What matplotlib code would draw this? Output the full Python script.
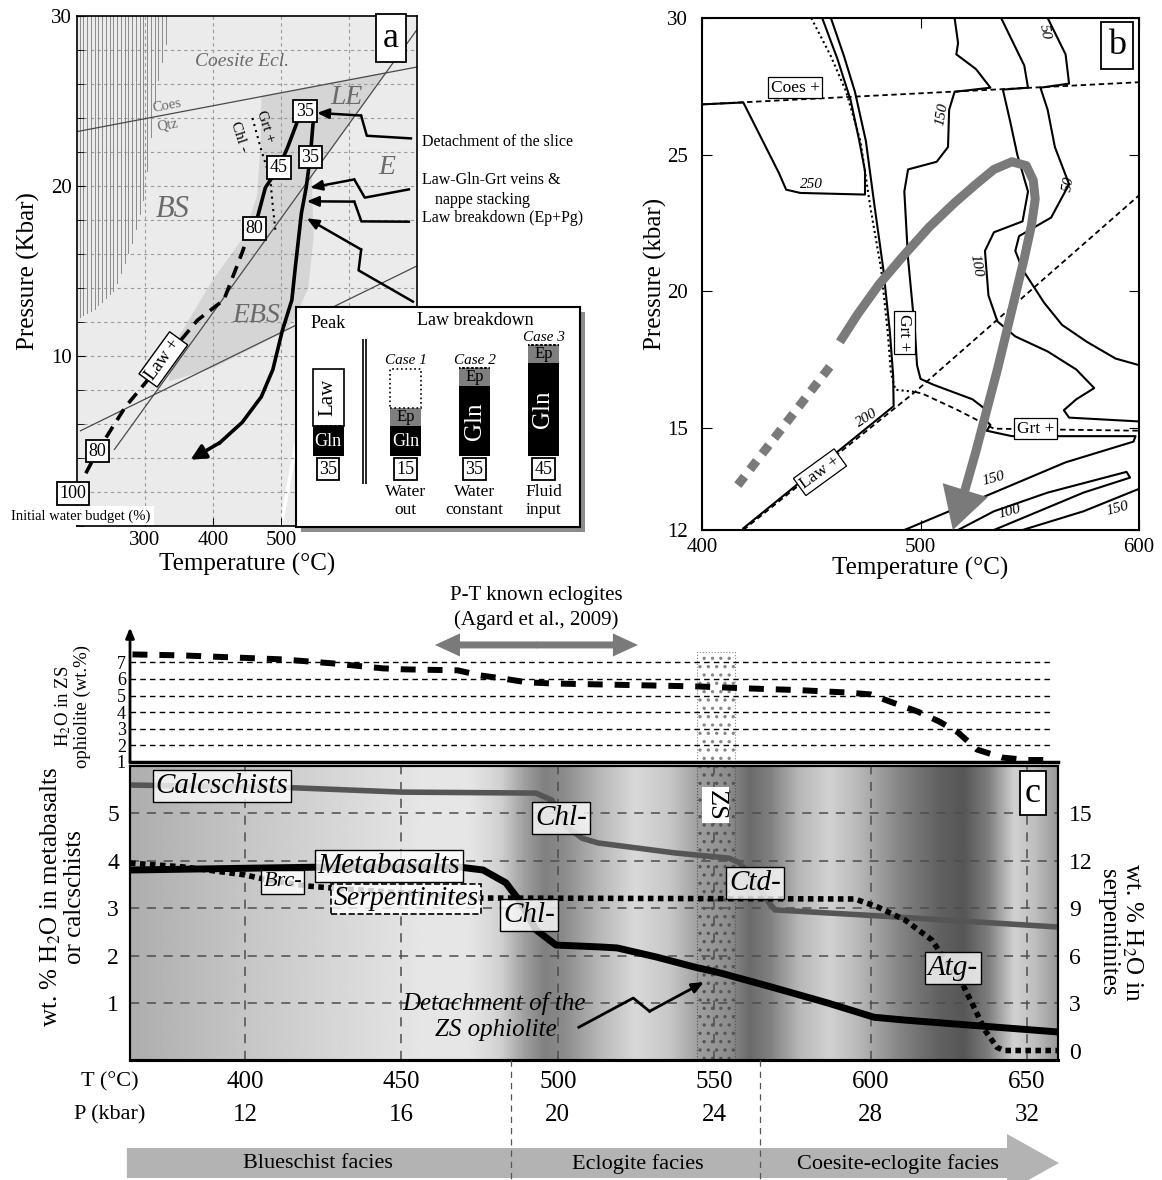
import numpy as np
import matplotlib
matplotlib.use('Agg')
import matplotlib.pyplot as plt
from matplotlib.patches import Rectangle, FancyArrow

plt.rcParams['font.family'] = ['Liberation Serif', 'DejaVu Serif']
plt.rcParams['mathtext.fontset'] = 'stix'
plt.rcParams['hatch.linewidth'] = 1.2
plt.rcParams['hatch.color'] = '#777777'

W, H = 1162, 1180

# ---------------- panel a : P-T grid and path ----------------
coes_T, coes_P = [200, 700], [23.2, 27.0]
lawin_T, lawin_P = [255, 700], [4.5, 29.2]
ebs_T, ebs_P = [205, 700], [5.6, 15.3]
hatch_T = [203, 227, 255, 280, 299, 316, 335]
hatch_P = [12.3, 12.8, 13.9, 16.5, 19.4, 25.6, 29.2]
grey_T = [471, 655, 545, 548, 540, 520, 505, 400, 335, 340, 400, 445, 465, 470]
grey_P = [25.3, 26.7, 20.6, 17, 14, 12.2, 11.4, 9.3, 8.5, 10.5, 14.5, 17, 19.5, 22.5]
grt_T = [458, 471, 484, 488, 492]
grt_P = [24.0, 22.1, 20.5, 18.8, 17.3]
prog_dash_T = [213, 230, 271, 377, 416, 443, 452]
prog_dash_P = [3.1, 4.4, 7.0, 12.1, 13.3, 16.1, 17.1]
prog_T = [452, 461, 477, 497, 510, 527, 535, 548]
prog_P = [17.1, 17.5, 19.9, 21.1, 22.3, 24.1, 24.4, 24.1]
retro_T = [548, 543, 537, 530, 521, 516, 502, 488, 471, 443, 410, 367]
retro_P = [24.1, 21.7, 19.9, 18.4, 15.2, 13.3, 11.5, 9.2, 7.6, 6.1, 4.9, 3.9]
budget_T = [535, 543, 497, 461, 230, 194]
budget_P = [24.4, 21.7, 21.1, 17.5, 4.4, 1.9]
budget_lab = ['35', '35', '45', '80', '80', '100']

# inset: water budget columns
col_x = [32, 109.5, 178.5, 247.5]
gln = [30, 30, 70, 93]
ep = [0, 18, 18, 18]
law = [57, 0, 0, 0]
lost = [0, 39, 0, 0]
col_budget = ['35', '15', '35', '45']
col_case = ['', 'Case 1', 'Case 2', 'Case 3']
col_note = ['', 'Water\nout', 'Water\nconstant', 'Fluid\ninput']

# ---------------- panel b : contoured pseudosection ----------------
b_coes_T, b_coes_P = [400, 600], [26.84, 27.65]
b_law_T, b_law_P = [418.9, 497.5, 600], [12.0, 16.32, 23.51]
b_grt_T = [497.5, 500.8, 517.2, 530.3, 533.6, 600]
b_grt_P = [16.32, 16.26, 15.65, 15.11, 14.98, 14.92]
b_grtv_T = [450, 459, 466, 472.5, 477, 482, 485, 486.5, 488.5, 497.5]
b_grtv_P = [30, 28.6, 27.3, 25.5, 23.1, 20.8, 18.5, 17.0, 16.4, 16.32]
c250_T = [400, 418.9, 435.2, 438.5, 445, 474.6, 474.6, 472, 468, 462, 455]
c250_P = [26.84, 26.91, 24.33, 23.72, 23.6, 23.54, 24.4, 25.5, 27.0, 28.5, 30.0]
c200_T = [459, 465, 470, 475, 479, 483, 486, 487.5, 487.7, 418.9]
c200_P = [30, 28.6, 27.3, 25.5, 23.1, 20.8, 18.5, 16.9, 15.8, 12.05]
c150_T = [515.6, 517.2, 516.4, 525.4, 532, 515.6, 513.1, 512.6, 507.4, 494.3, 492.6, 494.3,
          497.5, 498.4, 500, 505.7, 523.8, 530.3, 528.7, 532, 530.3, 541.8, 598.4, 597.5,
          566.4, 533.6, 492.6]
c150_P = [30, 29.08, 28.67, 28.13, 27.45, 27.3, 26.64, 25.28, 24.74, 24.46, 23.65, 21.2,
          18.5, 17.3, 16.8, 16.59, 16.05, 15.65, 15.38, 15.11, 14.92, 14.76, 14.76, 14.6,
          13.99, 13.10, 12.0]
c100_T = [536.9, 547.5, 549.2, 537.7, 541, 544.3, 549.2, 546.7, 533.6, 529.5, 531.1, 535.2,
          543.4, 558.2, 571.3, 579.5, 571.3, 565.6, 568, 600]
c100_P = [30, 28.26, 27.45, 27.38, 26.23, 25.0, 23.65, 22.56, 22.16, 21.48, 19.85, 18.9,
          18.35, 17.8, 17.14, 16.46, 16.05, 15.65, 15.38, 15.24]
c50_T = [558.2, 566.4, 568, 554.9, 558.2, 561.5, 568, 559.8, 545.1, 543.4, 546.7, 556.6,
         564.8, 576.2, 589.3, 600]
c50_P = [30, 28.67, 27.6, 27.45, 26.64, 25.28, 23.92, 22.7, 22.02, 21.48, 20.8, 19.58,
         18.77, 18.15, 17.54, 17.3]
low100_T = [517.2, 533.6, 558.2, 594.3, 595.9, 574.6, 541.8, 533.6]
low100_P = [12.0, 12.55, 13.1, 13.71, 13.54, 13.1, 12.22, 12.0]
low150_T = [546.7, 574.6, 600]
low150_P = [12.0, 12.55, 13.21]
bpath_dash_T = [416.4, 461.0]
bpath_dash_P = [13.32, 17.50]
bpath_T = [463.1, 471.3, 481.1, 492.6, 504.1, 515.6, 525.4, 533.6, 541.8, 548.4, 551.6, 552.5,
           550.8, 547.5, 543.4, 539.3, 535.2, 530.3, 525.4, 520.5, 516.4]
bpath_P = [18.15, 19.17, 20.26, 21.34, 22.36, 23.24, 23.92, 24.46, 24.74, 24.60, 24.06, 23.38,
           22.43, 21.21, 19.85, 18.49, 17.14, 15.65, 14.32, 13.21, 12.33]
bpath_tip = (514.8, 12.0)

# ---------------- panel c : water release along the path ----------------
c_T_ticks = [400, 450, 500, 550, 600, 650]
c_P_ticks = [12, 16, 20, 24, 28, 32]
h2o_T = [364, 380, 396, 412, 428, 444, 451, 468, 475, 482, 490, 498, 522, 545, 561, 577,
         592, 600, 607, 615, 622, 628, 634, 642, 650, 659]
h2o_V = [7.48, 7.42, 7.30, 7.18, 6.94, 6.64, 6.58, 6.52, 6.22, 6.04, 5.80, 5.73, 5.64,
         5.55, 5.43, 5.33, 5.19, 5.07, 4.58, 4.04, 3.43, 2.77, 1.75, 1.27, 1.12, 1.12]
calc_T = [363.2, 416, 450.2, 493, 498.1, 502.9, 507.7, 512.8, 537.4, 554.7, 558.2, 560.8,
          566.8, 569.4, 598.5, 659.9]
calc_V = [5.59, 5.53, 5.44, 5.42, 5.27, 4.71, 4.47, 4.37, 4.16, 4.05, 3.95, 3.74, 3.17,
          2.96, 2.85, 2.60]
meta_T = [363.2, 423.3, 468.7, 476.1, 483.4, 488.2, 493, 499.4, 513.5, 518.9, 531.4, 543.5,
          552.1, 568.1, 586.3, 601.1, 611, 659.9]
meta_V = [3.80, 3.86, 3.86, 3.80, 3.53, 3.11, 2.54, 2.22, 2.18, 2.16, 1.97, 1.76, 1.63,
          1.34, 1.00, 0.70, 0.64, 0.39]
serp_T = [363.2, 380.5, 400, 407.3, 419.8, 428.1, 474.8, 595, 602.3, 611, 619.6, 623.1,
          629.2, 633, 636.5, 640.4, 642.6, 659.9]
serp_V = [11.84, 11.59, 11.09, 10.77, 10.39, 10.26, 9.63, 9.57, 9.06, 8.24, 6.98, 5.91,
          4.26, 2.75, 1.29, 0.2, 0.0, 0.0]
bg_T = [363.2, 401.6, 433.5, 455.9, 471.9, 481.5, 489.5, 495.9, 502.3, 513.5, 524.6, 535.8,
        545.4, 555.0, 561.4, 567.8, 577.4, 587.0, 596.6, 609.4, 622.2, 630.1, 638.1, 646.1,
        652.5, 659.9]
bg_lev = [0.68, 0.78, 0.85, 0.90, 0.90, 0.82, 0.62, 0.50, 0.55, 0.72, 0.85, 0.78, 0.62,
          0.55, 0.42, 0.50, 0.72, 0.82, 0.72, 0.52, 0.38, 0.34, 0.50, 0.82, 0.75, 0.60]
facies_edges = [485, 564.6]
facies_names = ['Blueschist facies', 'Eclogite facies', 'Coesite-eclogite facies']
facies_T = [423.3, 525.6, 608.7]
zs_T = [544.5, 556.7]


def box(l, t, w, h):
    return [l / W, 1 - (t + h) / H, w / W, h / H]


def zigzag(ax, start, tip, h=9.0, lw=1.8):
    p0 = ax.transData.transform(start)
    p1 = ax.transData.transform(tip)
    d = p1 - p0
    u = d / np.hypot(*d)
    n = np.array([-u[1], u[0]])
    m = p0 + 0.5 * d
    a = m - u * h * 0.6 + n * h
    b = m + u * h * 0.6 - n * h
    pts = ax.transData.inverted().transform(np.array([p0, a, b]))
    ax.plot(pts[:, 0], pts[:, 1], color='k', lw=lw, clip_on=False, zorder=6,
            solid_joinstyle='round')
    ax.annotate('', xy=tip, xytext=tuple(pts[2]), annotation_clip=False, zorder=6,
                arrowprops=dict(arrowstyle='-|>,head_length=0.7,head_width=0.3', color='k',
                                lw=lw, shrinkA=0, shrinkB=0))


fig = plt.figure(figsize=(W / 100, H / 100), dpi=100)

# ======================= (a) =======================
axa = fig.add_axes(box(77, 16, 340, 510))
axa.set_xlim(200, 700)
axa.set_ylim(0, 30)
axa.set_facecolor('#ebebeb')
for t in np.arange(204, 336, 5.5):
    axa.plot([t, t], [np.interp(t, hatch_T, hatch_P), 30], color='#8a8a8a', lw=0.7, zorder=1)
axa.fill(grey_T, grey_P, color='#d5d5d5', lw=0, zorder=0.5)
axa.plot([500, 532], [0, 7], color='white', lw=2.5, zorder=0.6)
for p in range(2, 30, 2):
    axa.axhline(p, ls=(0, (3, 3)), color='#9a9a9a', lw=0.8, zorder=0.8)
for t in [300, 400, 500, 600]:
    axa.axvline(t, ls=(0, (3, 3)), color='#9a9a9a', lw=0.8, zorder=0.8)
for xs, ys in [(coes_T, coes_P), (lawin_T, lawin_P), (ebs_T, ebs_P)]:
    axa.plot(xs, ys, color='#4a4a4a', lw=0.9, zorder=2)
axa.plot(grt_T, grt_P, color='k', lw=1.5, ls=(0, (1, 2)), zorder=3)
axa.plot(prog_dash_T, prog_dash_P, color='k', lw=2.6, ls=(0, (3.5, 2.2)), zorder=4)
axa.plot(prog_T, prog_P, color='k', lw=2.6, zorder=4)
axa.plot(retro_T[:-1], retro_P[:-1], color='k', lw=2.6, zorder=4)
axa.annotate('', xy=(retro_T[-1], retro_P[-1]), xytext=(retro_T[-2], retro_P[-2]), zorder=4,
             arrowprops=dict(arrowstyle='-|>,head_length=0.9,head_width=0.45', color='k',
                             lw=2.6, shrinkA=0, shrinkB=0))
for t, p, s in zip(budget_T, budget_P, budget_lab):
    axa.text(t, p, s, ha='center', va='center', fontsize=13, zorder=7, clip_on=False,
             bbox=dict(boxstyle='square,pad=0.15', fc='white', ec='k', lw=1.3))
axa.text(206, 0.6, 'Initial water budget (%)', ha='center', va='center', fontsize=10.5,
         zorder=7, bbox=dict(boxstyle='square,pad=0.2', fc='white', ec='none'))
axa.text(443, 27.3, 'Coesite Ecl.', color='#6a6a6a', style='italic', fontsize=14,
         ha='center', va='center', zorder=3)
axa.text(333, 24.7, 'Coes', color='#6a6a6a', fontsize=10.5, rotation=11, ha='center', va='center')
axa.text(333, 23.6, 'Qtz', color='#6a6a6a', fontsize=10.5, rotation=11, ha='center', va='center')
for s, t, p, fs in [('LE', 596, 25.2, 20), ('E', 655, 21.1, 20), ('BS', 341, 18.6, 22),
                    ('EBS', 464, 12.4, 20)]:
    axa.text(t, p, s, color='#6a6a6a', style='italic', fontsize=fs, ha='center', va='center',
             zorder=3)
axa.text(477, 23.5, 'Grt +', fontsize=11, rotation=-72, ha='center', va='center', zorder=3)
axa.text(438, 22.9, 'Chl -', fontsize=11, rotation=-72, ha='center', va='center', zorder=3)
axa.text(327, 9.8, 'Law +', fontsize=13, rotation=54, ha='center', va='center', zorder=5,
         bbox=dict(boxstyle='square,pad=0.15', fc='white', ec='k', lw=1))
axa.text(662, 28.7, 'a', fontsize=26, ha='center', va='center', zorder=7,
         bbox=dict(boxstyle='square,pad=0.2', fc='white', ec='k', lw=1.3))
axa.set_xticks([300, 400, 500])
axa.set_yticks([10, 20, 30])
axa.set_yticks(range(0, 31, 2), minor=True)
axa.tick_params(which='both', direction='in', labelsize=15, length=6)
axa.tick_params(which='minor', length=5)
for sp in axa.spines.values():
    sp.set_linewidth(1.2)
axa.set_xlabel('Temperature (°C)', fontsize=18, labelpad=2)
axa.set_ylabel('Pressure (Kbar)', fontsize=18, labelpad=8)

zigzag(axa, (691, 22.8), (553, 24.3))
zigzag(axa, (688, 19.8), (543, 19.9))
zigzag(axa, (688, 17.9), (538, 19.1))
zigzag(axa, (694, 13.2), (538, 18.1))
axa.text(707, 22.6, 'Detachment of the slice', fontsize=11.5, va='center')
axa.text(707, 20.35, 'Law-Gln-Grt veins &', fontsize=11.5, va='center')
axa.text(726, 19.2, 'nappe stacking', fontsize=11.5, va='center')
axa.text(708, 18.1, 'Law breakdown (Ep+Pg)', fontsize=11.5, va='center')

# inset with the water budget cases
fig.patches.append(Rectangle(((296 + 5) / W, 1 - (527 + 5) / H), 284 / W, 220 / H,
                             transform=fig.transFigure, fc='#8c8c8c', ec='none', zorder=2))
axi = fig.add_axes(box(296, 307, 284, 220))
axi.set_zorder(3)
axi.set_xlim(0, 284)
axi.set_ylim(-71, 149)
axi.set_xticks([])
axi.set_yticks([])
for sp in axi.spines.values():
    sp.set_linewidth(1.5)
axi.bar(col_x, gln, width=31, color='black')
axi.bar(col_x, ep, bottom=gln, width=31, color='#7f7f7f')
axi.bar(col_x[:1], law[:1], bottom=gln[:1], width=31, color='white', ec='k', lw=1.2)
tops = [g + e for g, e in zip(gln, ep)]
axi.bar(col_x, lost, bottom=tops, width=31, fill=False, ec='k', ls=':', lw=1.2)
axi.text(col_x[0], gln[0] + law[0] / 2, 'Law', rotation=90, fontsize=15, ha='center', va='center')
for i, x in enumerate(col_x):
    if i < 2:
        axi.text(x, gln[i] / 2, 'Gln', color='white', fontsize=13, ha='center', va='center')
    else:
        axi.text(x, gln[i] / 2, 'Gln', color='white', fontsize=18, rotation=90,
                 ha='center', va='center')
    if ep[i]:
        axi.text(x, gln[i] + ep[i] / 2, 'Ep', fontsize=12, ha='center', va='center')
    axi.text(x, -13, col_budget[i], fontsize=13, ha='center', va='center',
             bbox=dict(boxstyle='square,pad=0.12', fc='white', ec='k', lw=1.3))
    if col_case[i]:
        axi.text(x, tops[i] + lost[i] + 8, col_case[i], style='italic', fontsize=11,
                 ha='center', va='center')
        axi.text(x, -45, col_note[i], fontsize=12.5, ha='center', va='center', linespacing=1.25)
axi.vlines([66.5, 69.5], -28, 117, color='k', lw=1.2)
axi.text(32, 133, 'Peak', fontsize=13, ha='center', va='center')
axi.text(179, 136, 'Law breakdown', fontsize=13, ha='center', va='center')

# ======================= (b) =======================
def b_fwd(p):
    p = np.asarray(p, float)
    return np.where(p >= 15, 102 + (p - 15) * 410 / 15, (p - 12) * 34)


def b_inv(y):
    y = np.asarray(y, float)
    return np.where(y >= 102, 15 + (y - 102) * 15 / 410, 12 + y / 34)


axb = fig.add_axes(box(702, 18, 437, 512))
axb.set_yscale('function', functions=(b_fwd, b_inv))
axb.set_xlim(400, 600)
axb.set_ylim(12, 30)
axb.plot(b_coes_T, b_coes_P, 'k', lw=1.3, ls=(0, (3, 2)))
axb.plot(b_law_T, b_law_P, 'k', lw=1.3, ls=(0, (3, 2)))
axb.plot(b_grt_T, b_grt_P, 'k', lw=1.3, ls=(0, (3, 2)))
axb.plot(b_grtv_T, b_grtv_P, 'k', lw=1.5, ls=(0, (1, 1.5)))
for xs, ys in [(c250_T, c250_P), (c200_T, c200_P), (c150_T, c150_P), (c100_T, c100_P),
               (c50_T, c50_P), (low100_T, low100_P), (low150_T, low150_P)]:
    axb.plot(xs, ys, 'k', lw=1.5, solid_joinstyle='round')
axb.plot(bpath_dash_T, bpath_dash_P, color='#7a7a7a', lw=6.5, ls=(0, (1.2, 1.0)),
         dash_capstyle='butt', zorder=5)
axb.plot(bpath_T, bpath_P, color='#7a7a7a', lw=6.5, solid_capstyle='butt',
         solid_joinstyle='round', zorder=5)
axb.annotate('', xy=bpath_tip, xytext=(bpath_T[-1], bpath_P[-1]), annotation_clip=False,
             zorder=5, arrowprops=dict(arrowstyle='-|>,head_length=1.5,head_width=0.85',
                                       mutation_scale=20, color='#7a7a7a', lw=0,
                                       shrinkA=0, shrinkB=0))
for s, t, p, r in [('250', 450, 23.92, 0), ('200', 475.4, 15.38, 32), ('150', 509.8, 26.5, 80),
                   ('100', 525.4, 20.95, -80), ('50', 556.6, 29.5, -80), ('50', 568, 23.92, 80),
                   ('150', 533.6, 13.5, 15), ('100', 541, 12.55, 15), ('150', 590, 12.62, 15)]:
    axb.text(t, p, s, style='italic', fontsize=11, rotation=r, ha='center', va='center')
lab = dict(boxstyle='square,pad=0.15', fc='white', ec='k', lw=0.9)
axb.text(442.6, 27.45, 'Coes +', fontsize=12.5, ha='center', va='center', bbox=lab)
axb.text(492.6, 18.49, 'Grt +', fontsize=12.5, rotation=-90, ha='center', va='center', bbox=lab)
axb.text(454, 13.7, 'Law +', fontsize=12.5, rotation=36, ha='center', va='center', bbox=lab)
axb.text(552.5, 14.98, 'Grt +', fontsize=12.5, ha='center', va='center', bbox=lab)
axb.text(589.9, 29.0, 'b', fontsize=26, ha='center', va='center',
         bbox=dict(boxstyle='square,pad=0.2', fc='white', ec='k', lw=1.3))
axb.set_xticks([400, 500, 600])
axb.set_yticks([12, 15, 20, 25, 30])
axb.yaxis.set_minor_locator(matplotlib.ticker.NullLocator())
axb.tick_params(direction='in', length=7, top=True, right=True, labelsize=15)
axb.tick_params(axis='y', pad=10)
axb.tick_params(axis='x', pad=6)
for sp in axb.spines.values():
    sp.set_linewidth(1.5)
axb.set_xlabel('Temperature (°C)', fontsize=18, labelpad=0)
axb.set_ylabel('Pressure (kbar)', fontsize=18, labelpad=0)

# ======================= (c) top: H2O in ZS ophiolite =======================
xl = (363.2, 659.9)
axt = fig.add_axes(box(130, 632, 928, 130))
axt.set_xlim(*xl)
axt.set_ylim(1, 8.83)
axt.patch.set_alpha(0)
for k in ['top', 'right', 'left']:
    axt.spines[k].set_visible(False)
axt.spines['bottom'].set_linewidth(2.5)
axt.set_xticks([])
axt.set_yticks(range(1, 8))
axt.tick_params(axis='y', length=0, pad=3, labelsize=13)
axt.annotate('', xy=(0, 1.035), xytext=(0, 0), xycoords='axes fraction',
             arrowprops=dict(arrowstyle='-|>,head_length=0.6,head_width=0.25', color='k',
                             lw=2, shrinkA=0, shrinkB=0))
axt.hlines(range(2, 8), xl[0], 657.5, color='k', lw=1, ls=(0, (4, 3)))
axt.add_patch(Rectangle((zs_T[0], 1), zs_T[1] - zs_T[0], 6.63, fc='none', ec='#888888',
                        hatch='..', ls=':', lw=0.8))
axt.plot(h2o_T, h2o_V, 'k', lw=4.3, ls=(0, (2.5, 2.0)), dash_capstyle='butt', clip_on=False)
arr = dict(width=0.42, head_width=1.39, head_length=8, length_includes_head=True,
           color='#7a7a7a', lw=0, clip_on=False)
axt.add_patch(FancyArrow(493.2, 8.05, 460.7 - 493.2, 0, **arr))
axt.add_patch(FancyArrow(493.0, 8.05, 525.6 - 493.0, 0, **arr))
axt.text(493, 11.0, 'P-T known eclogites', fontsize=15, ha='center', va='center')
axt.text(493, 9.55, '(Agard et al., 2009)', fontsize=15, ha='center', va='center')

# ======================= (c) main =======================
axc = fig.add_axes(box(130, 766, 928, 294))
axc.set_xlim(*xl)
axc.set_ylim(-0.2, 5.99)
Tg = np.linspace(xl[0], xl[1], 600)
axc.imshow(np.interp(Tg, bg_T, bg_lev)[None, :], extent=[xl[0], xl[1], -0.2, 5.99],
           aspect='auto', cmap='gray', vmin=0, vmax=1, interpolation='bilinear', zorder=0)
for t in c_T_ticks:
    axc.axvline(t, color='#4d4d4d', lw=1.1, ls=(0, (6, 5)), zorder=1)
for v in range(1, 6):
    axc.axhline(v, color='#4d4d4d', lw=1.1, ls=(0, (6, 5)), zorder=1)
axc.add_patch(Rectangle((zs_T[0], -0.2), zs_T[1] - zs_T[0], 6.19, fc='none', ec='#555555',
                        hatch='..', ls=':', lw=0.8, zorder=1.5))
axc.plot(calc_T, calc_V, color='#555555', lw=4, zorder=3, solid_capstyle='butt')
axc.plot(meta_T, meta_V, color='black', lw=5, zorder=3, solid_capstyle='butt')
axc.set_yticks(range(1, 6))
axc.set_xticks([])
axc.tick_params(axis='y', length=0, pad=8, labelsize=17)
for sp in axc.spines.values():
    sp.set_linewidth(1.5)
axc.spines['bottom'].set_linewidth(2.2)
zigzag(axc, (506.7, 0.49), (546.7, 1.44), h=9, lw=2)
axc.text(479.6, 1.0, 'Detachment of the', style='italic', fontsize=18, ha='center',
         va='center', zorder=5)
axc.text(480.2, 0.43, 'ZS ophiolite', style='italic', fontsize=18, ha='center', va='center',
         zorder=5)

axr = axc.twinx()
axr.set_ylim(-0.6, 17.97)
axr.plot(serp_T, serp_V, color='black', lw=4, ls=(0, (1, 0.8)), dash_capstyle='butt', zorder=3)
axr.set_yticks(range(0, 16, 3))
axr.tick_params(axis='y', length=0, pad=8, labelsize=17)
for sp in axr.spines.values():
    sp.set_linewidth(1.5)
axr.spines['bottom'].set_linewidth(2.2)

lbl = dict(boxstyle='square,pad=0.1', fc=(1, 1, 1, 0.8), ec='k', lw=1)
for s, t, v, fs in [('Calcschists', 392.6, 5.57, 21), ('Chl-', 501, 4.9, 21),
                    ('Metabasalts', 446, 3.89, 21), ('Brc-', 412.1, 3.55, 16),
                    ('Chl-', 490.8, 2.85, 21), ('Ctd-', 563, 3.53, 21), ('Atg-', 626.3, 1.74, 21)]:
    axr.text(t, v * 3, s, style='italic', fontsize=fs, ha='center', va='center', bbox=lbl,
             zorder=6)
axr.text(451.4, 3.19 * 3, 'Serpentinites', style='italic', fontsize=20, ha='center',
         va='center', zorder=6,
         bbox=dict(boxstyle='square,pad=0.1', fc=(1, 1, 1, 0.8), ec='k', lw=1.2, ls='--'))
axr.text(550.4, 5.17 * 3, 'ZS', fontsize=19, rotation=-90, ha='center', va='center', zorder=6,
         bbox=dict(boxstyle='square,pad=0.1', fc='white', ec='none'))
axr.text(651.9, 5.42 * 3, 'c', fontsize=26, ha='center', va='center', zorder=6,
         bbox=dict(boxstyle='square,pad=0.15', fc='white', ec='k', lw=1.3))

fig.text(62 / W, 1 - 897 / H, 'wt. % H$_2$O in metabasalts\nor calcschists', rotation=90,
         ha='center', va='center', fontsize=18, linespacing=1.05)
fig.text(1121 / W, 1 - 932 / H, 'wt. % H$_2$O in\nserpentinites', rotation=-90,
         ha='center', va='center', fontsize=18, linespacing=1.05)
fig.text(72 / W, 1 - 706 / H, 'H$_2$O in ZS\nophiolite (wt.%)', rotation=90,
         ha='center', va='center', fontsize=13.5, linespacing=1.05)

# ======================= (c) bottom: T, P and facies =======================
axf = fig.add_axes(box(130, 1060, 928, 120))
axf.set_xlim(*xl)
axf.set_ylim(1180, 1060)
axf.axis('off')
axf.text(356.9, 1082, 'T (°C)', fontsize=16, ha='center', va='center')
axf.text(356.8, 1115, 'P (kbar)', fontsize=16, ha='center', va='center')
for t, p in zip(c_T_ticks, c_P_ticks):
    axf.text(t, 1082, str(t), fontsize=18, ha='center', va='center')
    axf.text(t, 1115, str(p), fontsize=18, ha='center', va='center')
axf.add_patch(FancyArrow(362.2, 1163, 660.2 - 362.2, 0, width=30, head_width=58,
                         head_length=16.6, length_includes_head=True, color='#b3b3b3', lw=0,
                         clip_on=False))
axf.vlines(facies_edges, 1060, 1180, color='#555555', lw=0.9, ls=(0, (5, 4)))
for s, t in zip(facies_names, facies_T):
    axf.text(t, 1164, s, fontsize=16, ha='center', va='center')

fig.savefig('out.png', dpi=100)
